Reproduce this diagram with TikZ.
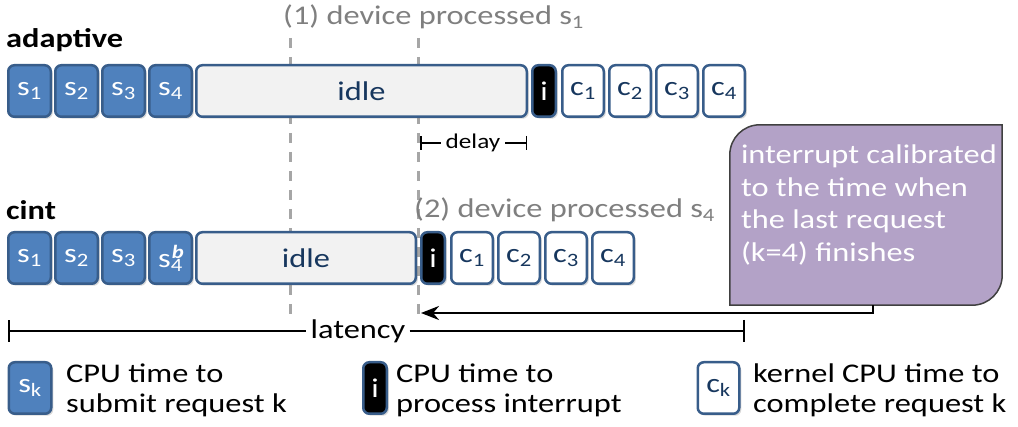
\documentclass[tikz,border=0pt]{standalone}
\usepackage{fontspec}
\setmainfont{Carlito}[FakeStretch=1.2]
\usepackage{tikz}
\usetikzlibrary{arrows.meta, shadows, calc}
\definecolor{myblue}{HTML}{4F81BD}
\definecolor{myborder}{HTML}{385D8A}
\definecolor{mynavy}{HTML}{17375E}
\definecolor{myidle}{HTML}{F2F2F2}
\definecolor{mypurple}{HTML}{B3A2C7}
\definecolor{mygray}{HTML}{A6A6A6}
\definecolor{mytext}{HTML}{7F7F7F}
\tikzset{
  >=Stealth,
  slot/.style={draw=myborder, line width=2.5pt, rounded corners=6pt, minimum height=51.5pt, inner sep=0pt,
    font=\fontsize{27}{31}\selectfont, drop shadow={opacity=0.3, shadow xshift=2pt, shadow yshift=-2pt}},
  sbox/.style={slot, fill=myblue, text=white, minimum width=42.5pt},
  cbox/.style={slot, fill=white, text=mynavy, minimum width=41.5pt},
  ibox/.style={slot, fill=black, text=white, minimum width=23.5pt},
  idlebox/.style={slot, fill=myidle, text=mynavy},
  marker/.style={draw=mygray, line width=3pt, dash pattern=on 10pt off 9pt},
  caption/.style={font=\fontsize{27}{31}\selectfont, text=mytext, anchor=west, inner sep=0pt},
  rowname/.style={font=\fontsize{27}{31}\selectfont\bfseries, anchor=west, inner sep=0pt},
  legend/.style={font=\fontsize{27}{30}\selectfont, align=left, anchor=west, inner sep=0pt},
  notetext/.style={font=\fontsize{27}{32.5}\selectfont, text=white, align=left, anchor=north west, inner sep=0pt},
}

\begin{document}
\begin{tikzpicture}[x=1pt, y=-1pt]
\useasboundingbox (0,0) rectangle (1018,427);
% the two moments, behind the rows
\coordinate (mAtop) at (290,38);
\coordinate (mAbot) at (290,318);
\coordinate (mBtop) at (418,38);
\coordinate (mBbot) at (418,318);
\draw[marker] (mAtop) -- (mAbot);
\draw[marker] (mBtop) -- (mBbot);
\node[caption] (devA) at (283,17) {(1) device processed s\textsubscript{1}};
\node[caption] (devB) at (414,210) {(2) device processed s\textsubscript{4}};

% adaptive
\node[rowname] (adaptive) at (6,40) {adaptive};
\foreach \k in {1,...,4}
  \node[sbox] (as\k) at ({29.5+47*(\k-1)},91) {s\textsubscript{\k}};
\node[idlebox, minimum width=330.5pt] (aidle) at (361.5,91) {idle};
\node[ibox] (ai) at (544,91) {i};
\foreach \k in {1,...,4}
  \node[cbox] (ac\k) at ({583+47*(\k-1)},91) {c\textsubscript{\k}};

% delay
\node[font=\fontsize{21}{25}\selectfont, inner sep=5pt] (delay) at (473,143) {delay};
\coordinate (dleft) at (420,143);
\coordinate (dright) at (527,143);
\draw[{Bar[width=14pt]}-, line width=1.5pt] (dleft) -- (delay);
\draw[-{Bar[width=14pt]}, line width=1.5pt] (delay) -- (dright);

% cint
\node[rowname] (cint) at (6,210) {cint};
\foreach \k in {1,...,3}
  \node[sbox] (cs\k) at ({29.5+47*(\k-1)},258) {s\textsubscript{\k}};
\node[sbox] (cs4) at (170.5,258) {s\rlap{\kern1pt\textsuperscript{\textbf{\textit{b}}}}\textsubscript{4}};
\node[idlebox, minimum width=219.5pt] (cidle) at (306,258) {idle};
\node[ibox] (ci) at (433,258) {i};
\foreach \k in {1,...,4}
  \node[cbox] (cc\k) at ({472+47*(\k-1)},258) {c\textsubscript{\k}};

% callout
\node[minimum width=272pt, minimum height=180pt, inner sep=0pt] (note) at (866,215) {};
\draw[fill=mypurple, draw=black!75, line width=1.5pt]
  (note.south west) -- ($(note.north west)+(0,30)$)
  .. controls ($(note.north west)+(0,13.4)$) and ($(note.north west)+(13.4,0)$) .. ($(note.north west)+(30,0)$)
  -- (note.north east) -- ($(note.south east)+(0,-30)$)
  .. controls ($(note.south east)+(0,-13.4)$) and ($(note.south east)+(-13.4,0)$) .. ($(note.south east)+(-30,0)$)
  -- cycle;
\node[notetext] (notebody) at ([xshift=11pt, yshift=-20pt]note.north west)
  {interrupt calibrated\\to the time when\\the last request\\(k=4) finishes};
\coordinate (aend) at (421,313);
\draw[-{Stealth[length=18pt, width=14pt]}, line width=2.5pt] ([xshift=7pt]note.south) |- (aend);

% latency
\node[font=\fontsize{27}{31}\selectfont, inner sep=4pt] (latency) at (358,331) {latency};
\coordinate (lleft) at (8,331);
\coordinate (lright) at (745,331);
\draw[{Bar[width=22pt]}-, line width=2pt] (lleft) -- (latency);
\draw[-{Bar[width=22pt]}, line width=2pt] (latency) -- (lright);

% legend
\node[sbox] (ksbox) at (30,388) {s\textsubscript{k}};
\node[legend] (kstext) at (66,390) {CPU time to\\submit request k};
\node[ibox] (kibox) at (375,388) {i};
\node[legend] (kitext) at (396,390) {CPU time to\\process interrupt};
\node[cbox] (kcbox) at (718.5,388) {c\textsubscript{k}};
\node[legend] (kctext) at (753,390) {kernel CPU time to\\complete request k};
\end{tikzpicture}
\end{document}
